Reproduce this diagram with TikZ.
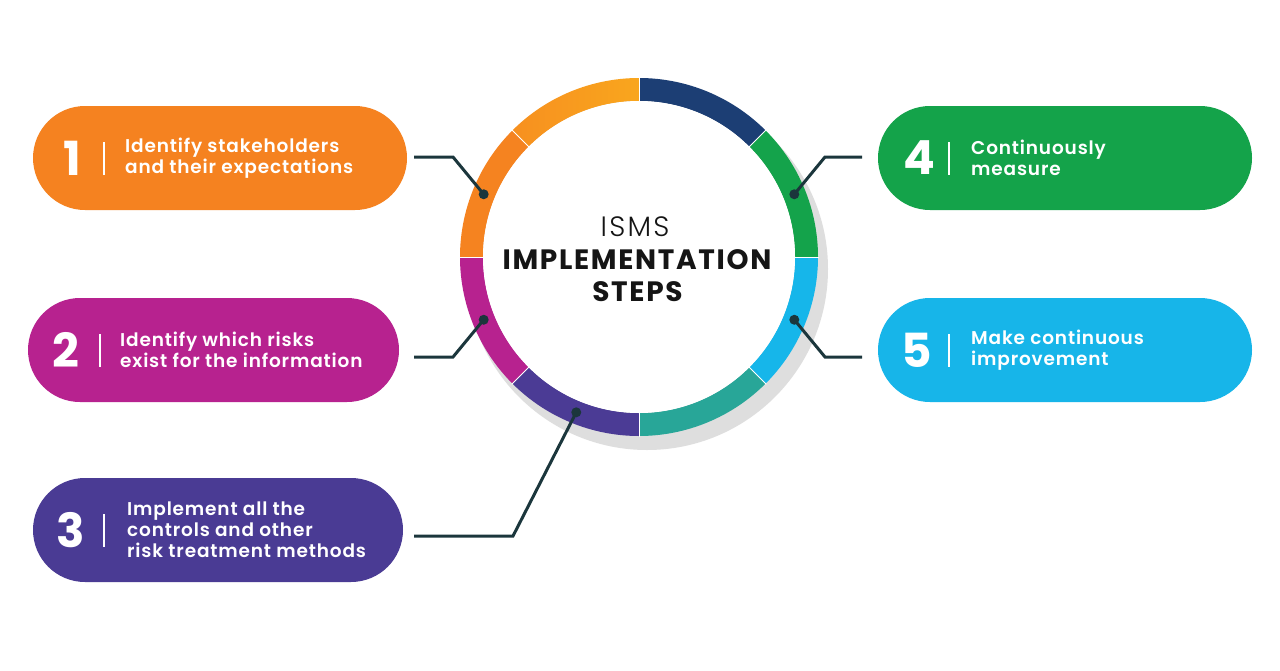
\documentclass[tikz,border=0pt]{standalone}
\usepackage{fontspec}
\setmainfont{Poppins}[BoldFont={Poppins SemiBold}]
\newfontfamily\poplight{Poppins Light}[LetterSpace=8]
\newfontfamily\popbold{Poppins Bold}
\newfontfamily\poptitle{Poppins Bold}[LetterSpace=6]
\newfontfamily\lblfont{Poppins SemiBold}[LetterSpace=4.5]
\definecolor{boxA}{HTML}{F58220}
\definecolor{boxB}{HTML}{B7228F}
\definecolor{boxC}{HTML}{4A3B94}
\definecolor{boxD}{HTML}{14A34A}
\definecolor{boxE}{HTML}{17B5E9}
\definecolor{segA}{HTML}{F9A61E}
\definecolor{segAl}{HTML}{F7901F}
\definecolor{segB}{HTML}{F58320}
\definecolor{segC}{HTML}{B7228F}
\definecolor{segD}{HTML}{4B3B95}
\definecolor{segE}{HTML}{28A698}
\definecolor{segF}{HTML}{16B6EA}
\definecolor{segG}{HTML}{14A34B}
\definecolor{segH}{HTML}{1C3E74}
\definecolor{linec}{HTML}{1B363C}
\definecolor{shadowc}{HTML}{DEDEDE}
\definecolor{titlec}{HTML}{151515}
\begin{document}
\begin{tikzpicture}[x=1pt,y=-1pt,
  pill/.style={rectangle, rounded corners=52pt, minimum height=104pt, inner sep=0pt},
  num/.style={text=white, font=\popbold\fontsize{47}{47}\selectfont, inner sep=0pt},
  lbl/.style={text=white, anchor=west, align=left, font=\lblfont\fontsize{18.5}{21}\selectfont, inner sep=0pt},
  sepbar/.style={white, line width=2.5pt},
  conn/.style={draw=linec, line width=3pt},
  dotm/.style={circle, fill=linec, minimum size=10pt, inner sep=0pt},
  ttl/.style={anchor=base, text=titlec, inner sep=0pt}]
\useasboundingbox (0,0) rectangle (1280,670);
\fill[white] (0,0) rectangle (1280,670);

% ring shadow
\fill[shadowc] (647,269) circle[radius=181];
% ring
\begin{scope}[shift={(639,257)}, yscale=-1]
  \foreach \a/\c in {135/segB,180/segC,225/segD,270/segE,315/segF,0/segG,45/segH}{
    \pgfmathsetmacro\b{\a+45}
    \fill[\c] (\a:179) arc[start angle=\a, end angle=\b, radius=179]
      -- (\b:156) arc[start angle=\b, end angle=\a, radius=156] -- cycle;
  }
  \shade[left color=segAl, right color=segA] (90:179) arc[start angle=90, end angle=135, radius=179]
      -- (135:156) arc[start angle=135, end angle=90, radius=156] -- cycle;
  \fill[white] (0,0) circle[radius=156];
  \foreach \a in {0,45,...,315}{
    \draw[white, line width=0.8pt] (\a:155) -- (\a:180);
  }
  \node[dotm] (d1) at (158:167.5) {};
  \node[dotm] (d2) at (202:167.5) {};
  \node[dotm] (d3) at (248:167.5) {};
  \node[dotm] (d4) at (22:167.5) {};
  \node[dotm] (d5) at (-22:167.5) {};
\end{scope}

% title
\node[ttl, font=\poplight\fontsize{28}{28}\selectfont] (t1) at (635,236) {ISMS};
\node[ttl, font=\poptitle\fontsize{28}{28}\selectfont] (t2) at (637,269) {IMPLEMENTATION};
\node[ttl, font=\poptitle\fontsize{28}{28}\selectfont] (t3) at (637.5,301.5) {STEPS};

% boxes
\node[pill, fill=boxA, minimum width=374pt] (box1) at (220,158) {};
\node[pill, fill=boxB, minimum width=371pt] (box2) at (213.5,350) {};
\node[pill, fill=boxC, minimum width=370pt] (box3) at (218,530) {};
\node[pill, fill=boxD, minimum width=374pt] (box4) at (1065,158) {};
\node[pill, fill=boxE, minimum width=374pt] (box5) at (1065,350) {};

% numbers, bars, labels
\node[num] (n1) at (72,158) {1};
\draw[sepbar] (104,142) -- (104,175);
\node[lbl] (l1) at (125,158) {Identify stakeholders\\and their expectations};

\node[num] (n2) at (66,350) {2};
\draw[sepbar] (100,334) -- (100,367);
\node[lbl] (l2) at (120,350) {Identify which risks\\exist for the information};

\node[num] (n3) at (71,530) {3};
\draw[sepbar] (104,514) -- (104,547);
\node[lbl] (l3) at (127,530) {Implement all the\\controls and other\\risk treatment methods};

\node[num] (n4) at (919,158) {4};
\draw[sepbar] (949,142) -- (949,175);
\node[lbl] (l4) at (971,158) {Continuously\\measure};

\node[num] (n5) at (917,350) {5};
\draw[sepbar] (949,334) -- (949,367);
\node[lbl] (l5) at (971,350) {Make continuous\\improvement};

% connectors
\coordinate (s1) at (414,157); \coordinate (e1) at (453,157);
\coordinate (s2) at (414,357); \coordinate (e2) at (453,357);
\coordinate (s3) at (414,536); \coordinate (e3) at (513,536);
\coordinate (s4) at (862,157); \coordinate (e4) at (825,157);
\coordinate (s5) at (862,357); \coordinate (e5) at (825,357);
\draw[conn] (s1) -- (e1) -- (d1.center);
\draw[conn] (s2) -- (e2) -- (d2.center);
\draw[conn] (s3) -- (e3) -- (d3.center);
\draw[conn] (s4) -- (e4) -- (d4.center);
\draw[conn] (s5) -- (e5) -- (d5.center);
\end{tikzpicture}
\end{document}
